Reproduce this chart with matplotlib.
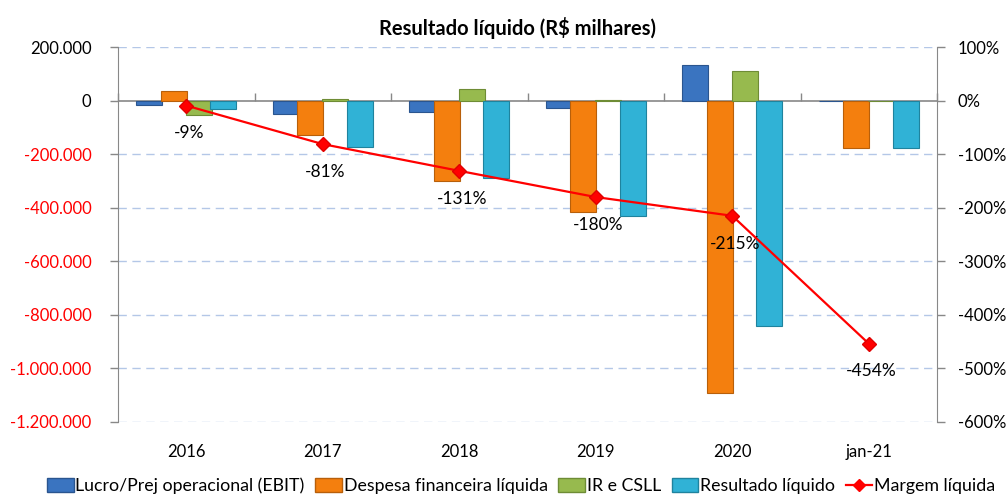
import matplotlib
matplotlib.use("Agg")
import matplotlib.pyplot as plt
import numpy as np
from matplotlib.ticker import FuncFormatter, FixedLocator
from matplotlib.lines import Line2D
from matplotlib.patches import Patch

plt.rcParams['font.family'] = ['Lato', 'DejaVu Sans']

categories = ["2016", "2017", "2018", "2019", "2020", "jan-21"]
ebit = [-17, -50, -42, -27, 135, -2]
despesa = [37, -127, -300, -415, -1092, -178]
ir_csll = [-55, 5, 45, 3, 111, 0]
resultado = [-30, -171, -290, -431, -842, -175]
margem = [-9, -81, -131, -180, -215, -454]

series_names = ["Lucro/Prej operacional (EBIT)", "Despesa financeira líquida",
                "IR e CSLL", "Resultado líquido"]
line_name = "Margem líquida"
title = "Resultado líquido (R\\$ milhares)"

left_ticks = [200, 0, -200, -400, -600, -800, -1000, -1200]
right_ticks = [100, 0, -100, -200, -300, -400, -500, -600]

colors = ["#3A74C0", "#F47F0E", "#97BA4E", "#30B2D6"]
edges = ["#2A558F", "#B85F0A", "#6E8C35", "#1F839E"]

fig = plt.figure(figsize=(10.08, 4.97), dpi=100)
ax = fig.add_axes([118/1008, 1-421.7/497, (937-118)/1008, (421.7-47.3)/497])

x = np.arange(len(categories))
step = 0.18
width = 0.19
for i, (vals, c, e) in enumerate(zip([ebit, despesa, ir_csll, resultado], colors, edges)):
    ax.bar(x + (i - 1.5) * step, [v * 1000 for v in vals], width=width, color=c,
           edgecolor=e, linewidth=0.8, zorder=3, label=series_names[i])

ax.set_xlim(-0.5, len(categories) - 0.5)
ax.set_ylim(left_ticks[-1] * 1000, left_ticks[0] * 1000)
ax.yaxis.set_major_locator(FixedLocator([t * 1000 for t in left_ticks]))

def fmt_left(v, pos):
    s = f"{abs(int(round(v))):,}".replace(",", ".")
    return ("-" + s) if v < 0 else s
ax.yaxis.set_major_formatter(FuncFormatter(fmt_left))
ax.tick_params(axis='y', direction='out', length=6, width=1, color='#888888',
               labelsize=12, pad=13)
for lbl, t in zip(ax.get_yticklabels(), ax.get_yticks()):
    lbl.set_color('red' if t < 0 else 'black')

# gridlines
for t in left_ticks:
    if t != 0:
        ax.axhline(t * 1000, color="#B4C7E7", linestyle=(0, (6, 4)), linewidth=1, zorder=1)
ax.axhline(0, color="#888888", linewidth=1.2, zorder=2)

ax.set_xticks(x)
ax.set_xticklabels(categories)
ax.tick_params(axis='x', length=0, labelsize=12, pad=16)

for s in ['top', 'bottom', 'right']:
    ax.spines[s].set_visible(False)
ax.spines['left'].set_color('#888888')

# category boundary ticks on zero line
zero_frac = (0 - ax.get_ylim()[0]) / (ax.get_ylim()[1] - ax.get_ylim()[0])
sec = ax.secondary_xaxis(zero_frac)
sec.set_xticks(np.arange(len(categories) + 1) - 0.5)
sec.set_xticklabels([])
sec.tick_params(direction='out', length=6, color='#888888', width=1)
sec.spines['bottom'].set_visible(False)
sec.spines['top'].set_visible(False)

ax2 = ax.twinx()
ax2.set_ylim(right_ticks[-1], right_ticks[0])
ax2.yaxis.set_major_locator(FixedLocator(right_ticks))
ax2.yaxis.set_major_formatter(FuncFormatter(lambda v, p: f"{v:.0f}%"))
ax2.tick_params(axis='y', direction='out', length=6, width=1, color='#888888',
                labelsize=12, pad=9)
for s in ['top', 'bottom', 'left']:
    ax2.spines[s].set_visible(False)
ax2.spines['right'].set_color('#888888')
ax2.plot(x, margem, color='#FF0000', linewidth=1.6, marker='D', markersize=7,
         markerfacecolor='#FF0000', markeredgecolor='#E00000', zorder=5)
for xi, m in zip(x, margem):
    ax2.annotate(f"{m}%", (xi, m), xytext=(2, -20), textcoords='offset points',
                 ha='center', va='center', fontsize=12.5)

fig.suptitle(title, x=0.513, y=0.965, fontsize=14.5, fontweight='bold')

handles = [Patch(facecolor=c, edgecolor=e) for c, e in zip(colors, edges)]
handles.append(Line2D([0], [0], color='#FF0000', linewidth=1.6, marker='D',
                      markersize=6, markerfacecolor='#FF0000'))
fig.legend(handles, series_names + [line_name], loc='center', ncol=5,
           bbox_to_anchor=(0.517, 0.022), frameon=False, fontsize=12.8,
           handlelength=1.5, handleheight=0.8, handletextpad=0.1, columnspacing=0.6)

fig.savefig("out.png", dpi=100)
